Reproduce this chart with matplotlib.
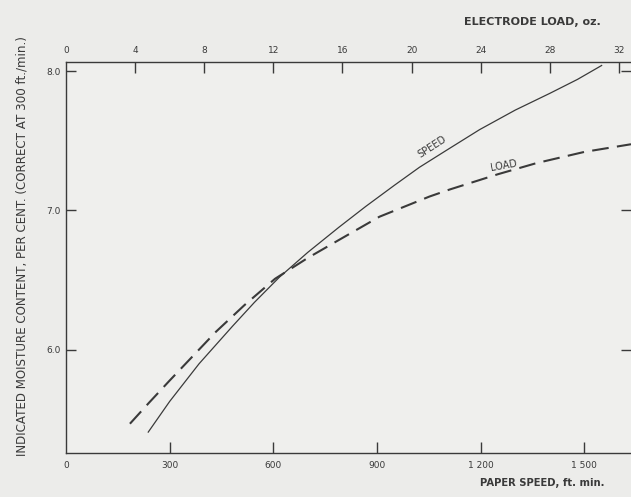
import matplotlib.pyplot as plt

# paper speed curve (ft/min vs indicated moisture %)
speed_x = [238, 300, 385, 482, 545, 617, 700, 790, 868, 950, 1023, 1100, 1197, 1300, 1400, 1480, 1550]
speed_y = [5.41, 5.63, 5.90, 6.17, 6.34, 6.52, 6.70, 6.88, 7.03, 7.18, 7.31, 7.43, 7.58, 7.72, 7.84, 7.94, 8.04]

# electrode load curve, plotted on the paper speed scale (1 oz = 50 ft/min)
load_x = [185, 240, 300, 434, 516, 605, 700, 791, 907, 1052, 1110, 1250, 1362, 1500, 1635]
load_y = [5.47, 5.62, 5.78, 6.13, 6.32, 6.51, 6.66, 6.79, 6.955, 7.10, 7.15, 7.26, 7.34, 7.42, 7.475]

speed_ticks = [0, 300, 600, 900, 1200, 1500]
speed_labels = ['0', '300', '600', '900', '1 200', '1 500']
load_ticks = [0, 4, 8, 12, 16, 20, 24, 28, 32]
moist_ticks = [6.0, 7.0, 8.0]

ink = '#3a3a3a'
bg = '#ececea'

fig = plt.figure(figsize=(6.31, 4.97), dpi=100, facecolor=bg)
ax = fig.add_axes([66 / 631, 1 - 453 / 497, 565 / 631, (453 - 62) / 497])
ax.set_facecolor('#efefed')

ax.plot(speed_x, speed_y, color=ink, lw=0.9)
ax.plot(load_x, load_y, color=ink, lw=1.5, dashes=(8, 4))

ax.set_xlim(0, 1635)
ax.set_ylim(5.26, 8.065)

for s in ['left', 'bottom', 'top']:
    ax.spines[s].set_color(ink)
    ax.spines[s].set_linewidth(1.0)
ax.spines['right'].set_visible(False)

ax.set_xticks(speed_ticks)
ax.set_xticklabels(speed_labels)
ax.set_yticks(moist_ticks)
ax.set_yticklabels(['6.0', '7.0', '8.0'])
ax.tick_params(axis='x', direction='in', length=8, width=1, color=ink,
               labelsize=6.5, labelcolor=ink, pad=6)
ax.tick_params(axis='y', direction='in', length=7, width=1, color=ink,
               labelsize=6.5, labelcolor=ink, right=True, pad=4)
ax.xaxis.get_major_ticks()[0].tick1line.set_visible(False)

top = ax.secondary_xaxis('top', functions=(lambda v: v / 50, lambda v: v * 50))
top.set_xticks(load_ticks)
top.tick_params(direction='in', length=8, width=1, color=ink,
                labelsize=6.5, labelcolor=ink, pad=5)
top.spines['top'].set_visible(False)
top.xaxis.get_major_ticks()[0].tick2line.set_visible(False)

ax.text(1059, 7.46, 'SPEED', rotation=33, fontsize=7, color=ink,
        ha='center', va='center')
ax.text(1267, 7.32, 'LOAD', rotation=10, fontsize=7, color=ink,
        ha='center', va='center')

fig.text(601 / 631, 1 - 22 / 497, 'ELECTRODE LOAD, oz.', fontsize=8, color=ink,
         ha='right', va='center', fontweight='bold')
fig.text(604 / 631, 1 - 483 / 497, 'PAPER SPEED, ft. min.', fontsize=7.2, color=ink,
         ha='right', va='center', fontweight='bold')
fig.text(22 / 631, 1 - 246 / 497,
         'INDICATED MOISTURE CONTENT, PER CENT. (CORRECT AT 300 ft./min.)',
         rotation=90, fontsize=8.6, color=ink, ha='center', va='center')

fig.savefig('out.png', dpi=100, facecolor=bg)
